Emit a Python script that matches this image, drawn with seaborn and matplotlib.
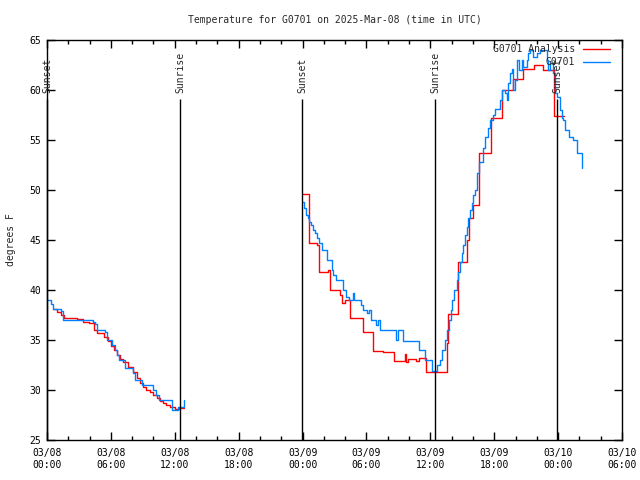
import pandas as pd
import numpy as np
import matplotlib.pyplot as plt
import matplotlib.dates as mdates
from matplotlib.lines import Line2D
import seaborn as sns

# hours after 2025-03-08 00:00 UTC, temperature in degrees F
ana_day1_hours = [0.6, 0.95, 1.3, 1.6, 2.8, 3.4, 3.95, 4.4, 4.7, 5.35, 5.7, 6.0, 6.3, 6.6, 6.9,
                  7.15, 7.6, 8.1, 8.45, 8.75, 9.0, 9.3, 9.7, 10.0, 10.35, 10.65, 10.9, 11.2,
                  11.55, 12.0, 12.4, 12.85]
ana_day1_temp = [38.1, 37.8, 37.5, 37.2, 37.1, 36.8, 36.7, 36.0, 35.7, 35.3, 34.9, 34.4, 34.0,
                 33.5, 33.1, 32.8, 32.3, 31.8, 31.2, 30.7, 30.3, 30.0, 29.8, 29.5, 29.2, 28.9,
                 28.7, 28.5, 28.3, 28.1, 28.2, 28.2]

ana_day2_hours = [24.05, 24.6, 25.35, 25.55, 26.4, 26.6, 27.5, 27.7, 28.0, 28.45, 29.7, 30.6,
                  31.55, 32.6, 33.6, 33.75, 33.9, 34.65, 34.95, 35.6, 37.55, 37.65, 38.6, 39.45,
                  39.65, 40.0, 40.55, 41.7, 42.75, 43.75, 44.7, 45.75, 46.6, 47.6, 48.55]
ana_day2_temp = [49.6, 44.7, 44.5, 41.8, 42.0, 40.0, 39.5, 38.7, 39.0, 37.2, 35.8, 33.9, 33.8,
                 32.9, 33.6, 32.8, 33.1, 32.9, 33.2, 31.8, 34.7, 37.6, 42.8, 45.0, 47.2, 48.5,
                 53.7, 57.2, 60.0, 61.1, 62.1, 62.5, 62.0, 57.4, 57.4]

obs_day1_hours = [0.1, 0.35, 0.55, 1.3, 1.5, 4.3, 4.5, 4.7, 5.45, 5.65, 6.1, 6.4, 6.6, 6.75,
                  7.3, 8.1, 8.25, 8.9, 9.95, 10.25, 10.5, 11.75, 12.3, 12.85]
obs_day1_temp = [39.0, 38.6, 38.1, 37.9, 37.0, 36.8, 36.6, 36.0, 35.8, 35.0, 34.5, 34.0, 33.5,
                 33.0, 32.2, 31.7, 31.0, 30.5, 30.0, 29.5, 29.0, 28.0, 28.3, 29.0]

obs_day2_hours = [24.05, 24.15, 24.3, 24.5, 24.6, 24.8, 25.0, 25.15, 25.35, 25.55, 25.8, 26.3,
                  26.75, 26.85, 27.15, 27.8, 28.1, 28.35, 28.7, 28.8, 29.5, 29.7, 30.05, 30.25,
                  30.4, 30.9, 31.1, 31.3, 32.8, 32.95, 33.45, 34.95, 35.5, 36.15, 36.6, 36.9,
                  37.1, 37.4, 37.55, 37.75, 37.95, 38.05, 38.2, 38.5, 38.6, 38.8, 38.95, 39.05,
                  39.25, 39.45, 39.55, 39.7, 39.9, 40.0, 40.2, 40.4, 40.6, 40.95, 41.15, 41.4,
                  41.6, 41.9, 42.1, 42.55, 42.75, 43.0, 43.2, 43.3, 43.5, 43.65, 43.75, 43.95,
                  44.15, 44.35, 44.6, 44.7, 45.1, 45.2, 45.35, 45.65, 46.0, 46.3, 46.95, 47.05,
                  47.25, 47.5, 47.7, 47.9, 48.2, 48.35, 48.45, 48.65, 49.0, 49.4, 49.8, 50.25]
obs_day2_temp = [48.8, 48.2, 47.5, 47.2, 46.8, 46.5, 46.0, 45.7, 45.2, 44.7, 44.0, 43.0, 42.0,
                 41.5, 41.0, 40.0, 39.3, 39.0, 39.7, 39.0, 38.5, 38.0, 37.7, 38.0, 37.0, 36.5,
                 37.0, 36.0, 35.0, 36.0, 34.9, 34.0, 33.0, 31.9, 32.5, 33.0, 34.0, 35.0, 36.0,
                 37.0, 38.0, 39.0, 40.0, 41.0, 41.8, 42.8, 43.7, 44.5, 45.5, 46.3, 47.2, 48.0,
                 48.7, 49.5, 50.0, 51.7, 52.8, 54.2, 55.3, 56.2, 57.0, 57.5, 58.1, 59.0, 60.0,
                 59.7, 59.0, 60.7, 61.7, 62.1, 60.0, 61.0, 63.0, 62.0, 63.0, 62.3, 63.0, 63.7,
                 64.0, 63.3, 63.7, 64.0, 63.0, 62.0, 62.7, 61.7, 59.7, 59.3, 58.0, 57.2, 57.0,
                 56.0, 55.3, 55.0, 53.7, 52.2]

event_labels = ['Sunset', 'Sunrise', 'Sunset', 'Sunrise', 'Sunset']
event_hours = [0.0, 12.5, 23.95, 36.45, 47.9]

base = pd.Timestamp('2025-03-08 00:00')

parts = []
for name, seg, hrs, tmp in [('G0701 Analysis', 'a1', ana_day1_hours, ana_day1_temp),
                            ('G0701 Analysis', 'a2', ana_day2_hours, ana_day2_temp),
                            ('G0701', 'o1', obs_day1_hours, obs_day1_temp),
                            ('G0701', 'o2', obs_day2_hours, obs_day2_temp)]:
    parts.append(pd.DataFrame({'time': base + pd.to_timedelta(hrs, unit='h'),
                               'temp': tmp, 'series': name, 'segment': seg}))
df = pd.concat(parts, ignore_index=True)

sns.set_style('ticks')
plt.rcParams['font.family'] = ['DejaVu Sans Mono']
plt.rcParams['font.size'] = 7

colors = {'G0701 Analysis': '#ff0000', 'G0701': '#0080ff'}

fig, ax = plt.subplots(figsize=(6.4, 4.8), dpi=100)
fig.subplots_adjust(left=0.0734, right=0.972, bottom=0.0833, top=0.9167)

sns.lineplot(data=df, x='time', y='temp', hue='series', units='segment', estimator=None,
             hue_order=['G0701 Analysis', 'G0701'], palette=colors, drawstyle='steps-post',
             lw=1.0, sort=False, legend=False, ax=ax)

# sunrise / sunset markers
ev_times = base + pd.to_timedelta(event_hours, unit='h')
ax.vlines(ev_times, 25, 59.1, colors='black', lw=1.0, clip_on=False)
for t, lab in zip(ev_times, event_labels):
    ax.text(t, 59.7, lab, rotation=90, ha='center', va='bottom', fontsize=7, clip_on=False)

ax.set_xlim(base, base + pd.Timedelta(hours=54))
ax.set_ylim(25, 65)
ax.set_yticks(range(25, 66, 5))
ax.xaxis.set_major_locator(mdates.HourLocator(byhour=[0, 6, 12, 18]))
ax.xaxis.set_major_formatter(mdates.DateFormatter('%m/%d\n%H:%M'))
ax.xaxis.set_minor_locator(mdates.HourLocator(byhour=range(0, 24, 2)))
ax.tick_params(which='both', direction='in', top=True, right=True, width=1, colors='black')
ax.tick_params(which='major', length=6)
ax.tick_params(which='minor', length=3)
ax.tick_params(axis='x', pad=6)
ax.tick_params(axis='y', pad=4)
for s in ax.spines.values():
    s.set_linewidth(1)
    s.set_color('black')

ax.set_xlabel('')
ax.set_ylabel('degrees F', labelpad=10)
ax.set_title('Temperature for G0701 on 2025-Mar-08 (time in UTC)', fontsize=7, pad=12)

handles = [Line2D([], [], color=colors[k], lw=1.0) for k in ['G0701 Analysis', 'G0701']]
ax.legend(handles, ['G0701 Analysis', 'G0701'], loc='upper right', bbox_to_anchor=(0.979, 0.99),
          frameon=False, markerfirst=False, handlelength=2.8, handletextpad=0.8,
          borderpad=0, borderaxespad=0, labelspacing=0.35, fontsize=7)

plt.savefig('out.png', dpi=100)
